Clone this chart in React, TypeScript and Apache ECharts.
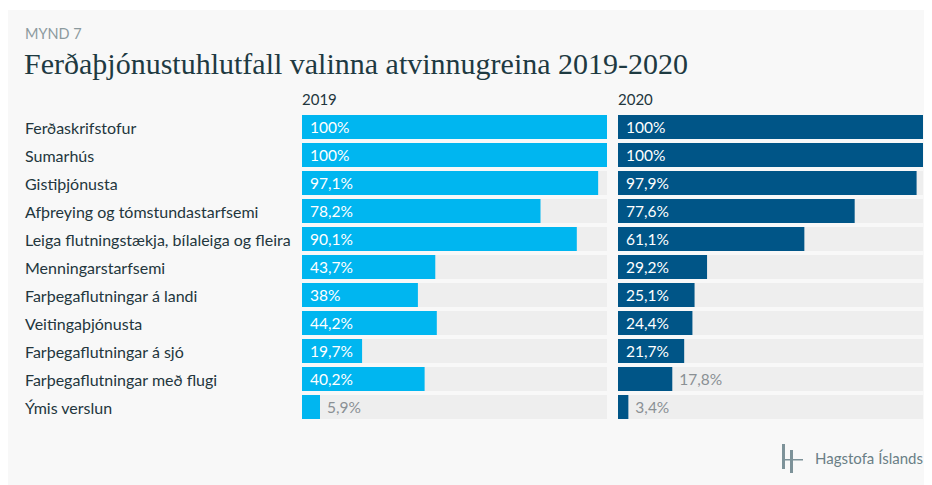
import React, { useEffect, useRef } from "react";
import * as echarts from "echarts";

const categories = [
  "Ferðaskrifstofur",
  "Sumarhús",
  "Gistiþjónusta",
  "Afþreying og tómstundastarfsemi",
  "Leiga flutningstækja, bílaleiga og fleira",
  "Menningarstarfsemi",
  "Farþegaflutningar á landi",
  "Veitingaþjónusta",
  "Farþegaflutningar á sjó",
  "Farþegaflutningar með flugi",
  "Ýmis verslun",
];
const values2019 = [100, 100, 97.1, 78.2, 90.1, 43.7, 38, 44.2, 19.7, 40.2, 5.9];
const values2020 = [100, 100, 97.9, 77.6, 61.1, 29.2, 25.1, 24.4, 21.7, 17.8, 3.4];
const yearLabels = ["2019", "2020"];

const fmt = (v: number) => String(v).replace(".", ",") + "%";

function mkData(vals: number[]) {
  return vals.map((v) => ({
    value: v,
    label:
      v >= 19
        ? { position: "insideLeft", distance: 8, color: "#ffffff" }
        : { position: "right", distance: 7, color: "#8a9094" },
  }));
}

export default function App() {
  const ref = useRef<HTMLDivElement>(null);
  useEffect(() => {
    if (!ref.current) return;
    const chart = echarts.init(ref.current, null, { renderer: "svg" });
    const font = "Lato";
    const gridTop = 103;
    const gridH = 308;
    chart.setOption({
      animation: false,
      backgroundColor: "#f8f8f8",
      textStyle: { fontFamily: font },
      grid: [
        { left: 294, top: gridTop, width: 305, height: gridH },
        { left: 610, top: gridTop, width: 305, height: gridH },
      ],
      xAxis: [0, 1].map((i) => ({
        type: "value",
        gridIndex: i,
        min: 0,
        max: 100,
        show: false,
      })),
      yAxis: [0, 1].map((i) => ({
        type: "category",
        gridIndex: i,
        data: categories,
        inverse: true,
        axisLine: { show: false },
        axisTick: { show: false },
        splitLine: { show: false },
        axisLabel: {
          show: i === 0,
          align: "left",
          margin: 277,
          color: "#23363d",
          fontSize: 16,
          fontFamily: font,
        },
      })),
      series: [
        {
          type: "bar",
          xAxisIndex: 0,
          yAxisIndex: 0,
          barWidth: 24,
          data: mkData(values2019),
          itemStyle: { color: "#00b6f0" },
          showBackground: true,
          backgroundStyle: { color: "#eeeeee" },
          label: {
            show: true,
            fontSize: 15.5,
            fontFamily: font,
            formatter: (p: any) => fmt(p.value),
          },
        },
        {
          type: "bar",
          xAxisIndex: 1,
          yAxisIndex: 1,
          barWidth: 24,
          data: mkData(values2020),
          itemStyle: { color: "#005587" },
          showBackground: true,
          backgroundStyle: { color: "#eeeeee" },
          label: {
            show: true,
            fontSize: 15.5,
            fontFamily: font,
            formatter: (p: any) => fmt(p.value),
          },
        },
      ],
      graphic: [
        {
          type: "text",
          left: 17,
          top: 16,
          style: {
            text: "MYND 7",
            fill: "#8c9a9e",
            font: `14.5px ${font}`,
          },
        },
        {
          type: "text",
          left: 16,
          top: 38,
          style: {
            text: "Ferðaþjónustuhlutfall valinna atvinnugreina 2019-2020",
            fill: "#1e3a42",
            font: `30px "Liberation Serif"`,
          },
        },
        {
          type: "text",
          left: 294,
          top: 81,
          style: { text: yearLabels[0], fill: "#23363d", font: `15px ${font}` },
        },
        {
          type: "text",
          left: 610,
          top: 81,
          style: { text: yearLabels[1], fill: "#23363d", font: `15px ${font}` },
        },
        { type: "rect", shape: { x: 774, y: 434, width: 3, height: 25 }, style: { fill: "#7d9299" } },
        { type: "rect", shape: { x: 782, y: 440, width: 3, height: 23 }, style: { fill: "#7d9299" } },
        { type: "rect", shape: { x: 774, y: 449, width: 21, height: 1.5 }, style: { fill: "#7d9299" } },
        {
          type: "text",
          left: 807,
          top: 440,
          style: { text: "Hagstofa Íslands", fill: "#6a7f86", font: `15px ${font}` },
        },
      ],
    });
    return () => chart.dispose();
  }, []);
  return <div ref={ref} style={{ width: 924, height: 475, marginTop: 2 }} />;
}
